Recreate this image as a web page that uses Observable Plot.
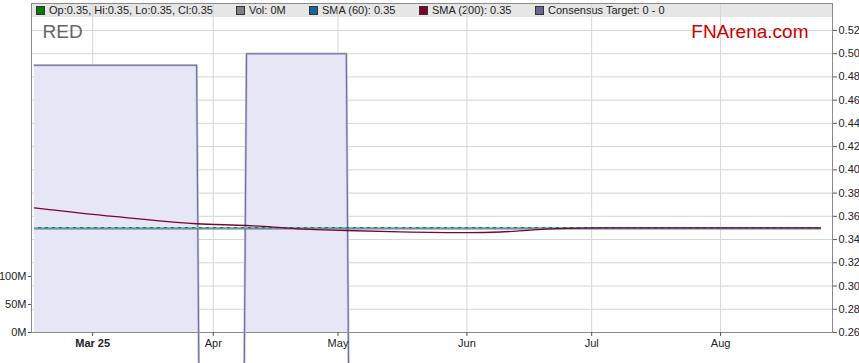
<!DOCTYPE html>
<html><head><meta charset="utf-8">
<script src="https://cdn.jsdelivr.net/npm/d3@7"></script>
<script src="https://cdn.jsdelivr.net/npm/@observablehq/plot@0.6"></script>
<style>
body{margin:0;background:#fff;font-family:"Liberation Sans",Arial,sans-serif;}
#wrap{position:relative;width:859px;height:363px;overflow:hidden;}
#legend{position:absolute;left:32px;top:3px;width:800px;height:14px;background:#e6e6e6;font-size:11px;color:#222;}
.item{position:absolute;top:0;line-height:14px;white-space:nowrap;}
.sw{display:inline-block;width:7px;height:7px;border:1px solid #333;margin-right:4px;vertical-align:-1px;}
#chart{position:absolute;left:0;top:0;}
</style></head><body>
<div id="wrap"><div id="legend"></div><div id="chart"></div></div>
<script>
const ticker = "RED";
const brand = "FNArena.com";

const legendLabels = ["Op:0.35, Hi:0.35, Lo:0.35, Cl:0.35", "Vol: 0M", "SMA (60): 0.35", "SMA (200): 0.35", "Consensus Target: 0 - 0"];
const legendColors = ["#008000", "#808080", "#1565a0", "#800030", "#66668f"];
const legendOffsets = [4, 204, 277, 387, 503];

const priceDates = ["2025-02-17", "2025-08-25"];
const priceValues = [0.35, 0.35];
const sma60Values = [0.35, 0.35];

const sma200Dates = ["2025-02-17","2025-03-08","2025-03-28","2025-04-09","2025-04-15","2025-04-18","2025-05-03","2025-05-16","2025-06-01","2025-06-09","2025-06-17","2025-06-25","2025-07-03","2025-08-25"];
const sma200Values = [0.3673,0.3599,0.3536,0.3521,0.3510,0.3500,0.3478,0.3467,0.3460,0.3465,0.3484,0.3496,0.3500,0.3500];

const targetDates = ["2025-02-17","2025-03-28","2025-03-29","2025-04-08","2025-04-09","2025-05-03","2025-05-04","2025-08-25"];
const targetValues = [0.49,0.49,0,0,0.50,0.50,0,0];

const monthTickDates = ["2025-03-03","2025-04-01","2025-05-01","2025-06-01","2025-07-01","2025-08-01"];
const monthTickLabels = ["Mar 25","Apr","May","Jun","Jul","Aug"];

const priceTicks = [0.26,0.28,0.30,0.32,0.34,0.36,0.38,0.40,0.42,0.44,0.46,0.48,0.50,0.52];
const volTicks = [0, 50e6, 100e6];
const volTickLabels = ["0M","50M","100M"];
const volFullScale = 587e6; // volume spanning the whole price axis height

const yDomain = [0.26, 0.5432];
const xDomain = [new Date(Date.UTC(2025,1,16,7)), new Date(Date.UTC(2025,7,27,22))];

// legend
const leg = document.getElementById("legend");
legendLabels.forEach((t, i) => {
  const d = document.createElement("div");
  d.className = "item";
  d.style.left = legendOffsets[i] + "px";
  d.innerHTML = `<span class="sw" style="background:${legendColors[i]}"></span>`;
  d.appendChild(document.createTextNode(t));
  leg.appendChild(d);
});

const parse = s => new Date(s + "T00:00:00Z");
const priceData = priceDates.map((d, i) => ({date: parse(d), price: priceValues[i], sma60: sma60Values[i]}));
const sma200Data = sma200Dates.map((d, i) => ({date: parse(d), v: sma200Values[i]}));
const targetData = targetDates.map((d, i) => ({date: parse(d), v: targetValues[i]}));
const mTicks = monthTickDates.map(parse);
const volToPrice = v => yDomain[0] + v / volFullScale * (yDomain[1] - yDomain[0]);
const volTickPrices = volTicks.map(volToPrice);
const volLabelOf = p => volTickLabels[volTickPrices.findIndex(q => Math.abs(q - p) < 1e-9)];
const monthLabelOf = d => monthTickLabels[mTicks.findIndex(q => +q === +d)];

const chart = Plot.plot({
  width: 859, height: 363,
  marginLeft: 31, marginRight: 27, marginTop: 3, marginBottom: 31,
  style: {fontFamily: "Liberation Sans, Arial, sans-serif", fontSize: "11px", background: "transparent", overflow: "hidden", color: "#222"},
  x: {type: "utc", domain: xDomain},
  y: {domain: yDomain},
  marks: [
    Plot.gridY(priceTicks, {stroke: "#d6d6d6", strokeOpacity: 1}),
    Plot.gridX(mTicks, {stroke: "#d6d6d6", strokeOpacity: 1}),
    Plot.areaY(targetData, {x: "date", y: "v", fill: "#e6e6f6", clip: true}),
    Plot.line(targetData, {x: "date", y: "v", stroke: "#c4c4e0", strokeWidth: 2.4}),
    Plot.line(targetData, {x: "date", y: "v", stroke: "#6e6e9c", strokeWidth: 1.1}),
    Plot.line(priceData, {x: "date", y: "sma60", stroke: "#5d75a8", strokeWidth: 1.2, dy: 1}),
    Plot.line(priceData, {x: "date", y: "price", stroke: "#1a8a1a", strokeWidth: 1.3, dy: -0.3}),
    Plot.line(priceData, {x: "date", y: "sma60", stroke: "#7ab4e0", strokeWidth: 1.2, strokeDasharray: "3,4", dy: -0.3}),
    Plot.line(sma200Data, {x: "date", y: "v", stroke: "#800030", strokeWidth: 1.3, curve: "monotone-x"}),
    Plot.frame({stroke: "#8a8a8a"}),
    Plot.axisY(priceTicks, {anchor: "right", tickFormat: d3.format(".2f"), tickSize: 4, tickPadding: 2, label: null, fontSize: 11, stroke: "#555"}),
    Plot.axisY(volTickPrices, {anchor: "left", tickFormat: volLabelOf, tickSize: 3, tickPadding: 2, label: null, fontSize: 11, stroke: "#555"}),
    Plot.axisX(mTicks.slice(1), {anchor: "bottom", tickFormat: monthLabelOf, tickSize: 4, tickPadding: 3, label: null, fontSize: 11, stroke: "#555"}),
    Plot.axisX(mTicks.slice(0, 1), {anchor: "bottom", tickFormat: monthLabelOf, tickSize: 4, tickPadding: 3, label: null, fontSize: 11, fontWeight: "bold", stroke: "#555"}),
    Plot.text([ticker], {frameAnchor: "top-left", dx: 11, dy: 21, text: d => d, textAnchor: "start", lineAnchor: "top", fontSize: 19, fill: "#666"}),
    Plot.text([brand], {frameAnchor: "top-right", dx: -24, dy: 21, text: d => d, textAnchor: "end", lineAnchor: "top", fontSize: 19, fill: "#cc0000"})
  ]
});
document.getElementById("chart").appendChild(chart);
</script>
</body></html>
